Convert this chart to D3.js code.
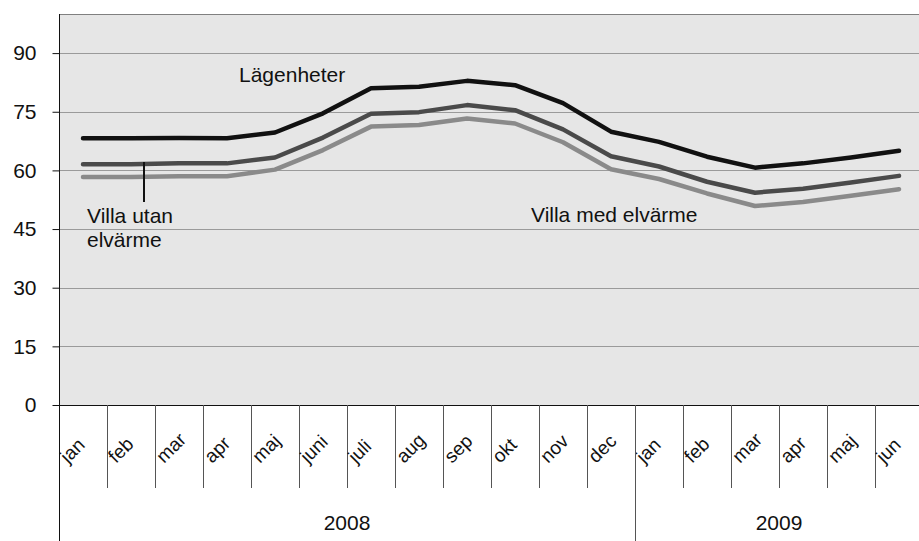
<!DOCTYPE html>
<html>
<head>
  <meta charset="utf-8">
  <script src="https://d3js.org/d3.v7.min.js"></script>
  <style>
    body { margin: 0; background: #fff; }
    text { font-family: "Liberation Sans", Arial, sans-serif; fill: #111; }
  </style>
</head>
<body>
<svg width="919" height="541"></svg>
<script>
  const months = ["jan", "feb", "mar", "apr", "maj", "juni", "juli", "aug", "sep", "okt", "nov", "dec",
                  "jan", "feb", "mar", "apr", "maj", "jun"];
  const years = [{ label: "2008", n: 12 }, { label: "2009", n: 6 }];
  const yTicks = [0, 15, 30, 45, 60, 75, 90];

  const lagenheter = [68.2, 68.2, 68.3, 68.2, 69.7, 74.6, 81.0, 81.4, 82.9, 81.8, 77.2, 69.9,
                      67.3, 63.5, 60.7, 61.8, 63.3, 65.0];
  const villaUtan = [61.6, 61.6, 61.8, 61.8, 63.3, 68.4, 74.5, 74.9, 76.7, 75.4, 70.5, 63.6,
                     61.0, 57.1, 54.3, 55.3, 56.9, 58.6];
  const villaMed = [58.3, 58.3, 58.5, 58.5, 60.2, 65.2, 71.2, 71.6, 73.3, 72.0, 67.2, 60.3,
                    57.8, 54.1, 50.9, 51.9, 53.5, 55.2];

  const svg = d3.select("svg");
  const mLeft = 59, mTop = 14, mBottom = 405, bandW = 48;
  const mRight = mLeft + bandW * months.length;

  const x = d3.scaleBand().domain(d3.range(months.length)).range([mLeft, mRight]);
  const y = d3.scaleLinear().domain([0, 100]).range([mBottom, mTop]);

  // plot background
  svg.append("rect")
    .attr("x", mLeft).attr("y", mTop)
    .attr("width", mRight - mLeft).attr("height", mBottom - mTop)
    .attr("fill", "#e6e6e6");
  svg.append("line")
    .attr("x1", mLeft).attr("x2", mRight).attr("y1", mTop + 0.5).attr("y2", mTop + 0.5)
    .attr("stroke", "#808080");

  // grid lines
  svg.append("g").selectAll("line")
    .data(yTicks.filter(d => d > 0))
    .enter().append("line")
    .attr("x1", mLeft).attr("x2", mRight)
    .attr("y1", d => Math.round(y(d)) + 0.5).attr("y2", d => Math.round(y(d)) + 0.5)
    .attr("stroke", "#9a9a9a");

  // y axis
  const yAxis = svg.append("g")
    .attr("transform", `translate(${mLeft + 0.5},0)`)
    .call(d3.axisLeft(y).tickValues(yTicks).tickSize(7).tickPadding(16).tickFormat(d3.format("d")));
  yAxis.select(".domain").remove();
  yAxis.selectAll(".tick line").attr("stroke", "#111");
  yAxis.selectAll(".tick text").attr("font-size", 21).attr("fill", "#111")
    .attr("font-family", "Liberation Sans, Arial, sans-serif");

  svg.append("line")
    .attr("x1", mLeft + 0.5).attr("x2", mLeft + 0.5).attr("y1", mTop).attr("y2", 541)
    .attr("stroke", "#111");
  svg.append("line")
    .attr("x1", mLeft).attr("x2", mRight).attr("y1", mBottom + 0.5).attr("y2", mBottom + 0.5)
    .attr("stroke", "#111");

  // month separators and labels
  const mg = svg.append("g");
  mg.selectAll("line")
    .data(d3.range(1, months.length))
    .enter().append("line")
    .attr("x1", d => Math.round(x(d)) + 0.5).attr("x2", d => Math.round(x(d)) + 0.5)
    .attr("y1", mBottom).attr("y2", 488)
    .attr("stroke", "#555");
  mg.selectAll("text")
    .data(months)
    .enter().append("text")
    .attr("transform", (d, i) => `translate(${x(i) + 9},${464}) rotate(-45)`)
    .attr("font-size", 19)
    .text(d => d);

  // year separators and labels
  let start = 0;
  years.forEach(yr => {
    const x0 = x(start), x1 = start + yr.n < months.length ? x(start + yr.n) : mRight;
    if (start > 0) {
      svg.append("line")
        .attr("x1", Math.round(x0) + 0.5).attr("x2", Math.round(x0) + 0.5)
        .attr("y1", mBottom).attr("y2", 541).attr("stroke", "#555");
    }
    svg.append("text")
      .attr("x", (x0 + x1) / 2).attr("y", 530)
      .attr("text-anchor", "middle").attr("font-size", 21)
      .text(yr.label);
    start += yr.n;
  });

  // lines
  const line = d3.line()
    .x((d, i) => x(i) + x.bandwidth() / 2)
    .y(d => y(d));
  const series = [
    { values: villaMed, color: "#8a8a8a" },
    { values: villaUtan, color: "#4a4a4a" },
    { values: lagenheter, color: "#111111" }
  ];
  svg.append("g").selectAll("path")
    .data(series)
    .enter().append("path")
    .attr("d", d => line(d.values))
    .attr("fill", "none")
    .attr("stroke", d => d.color)
    .attr("stroke-width", 4.5)
    .attr("stroke-linejoin", "round")
    .attr("stroke-linecap", "round");

  // annotations
  svg.append("text").attr("x", 239).attr("y", 82).attr("font-size", 21).text("Lägenheter");
  svg.append("text").attr("x", 87).attr("y", 223).attr("font-size", 21).text("Villa utan");
  svg.append("text").attr("x", 87).attr("y", 247).attr("font-size", 21).text("elvärme");
  svg.append("line")
    .attr("x1", 144).attr("x2", 144).attr("y1", 162).attr("y2", 202)
    .attr("stroke", "#111").attr("stroke-width", 2);
  svg.append("text").attr("x", 531).attr("y", 222).attr("font-size", 21).text("Villa med elvärme");
</script>
</body>
</html>
